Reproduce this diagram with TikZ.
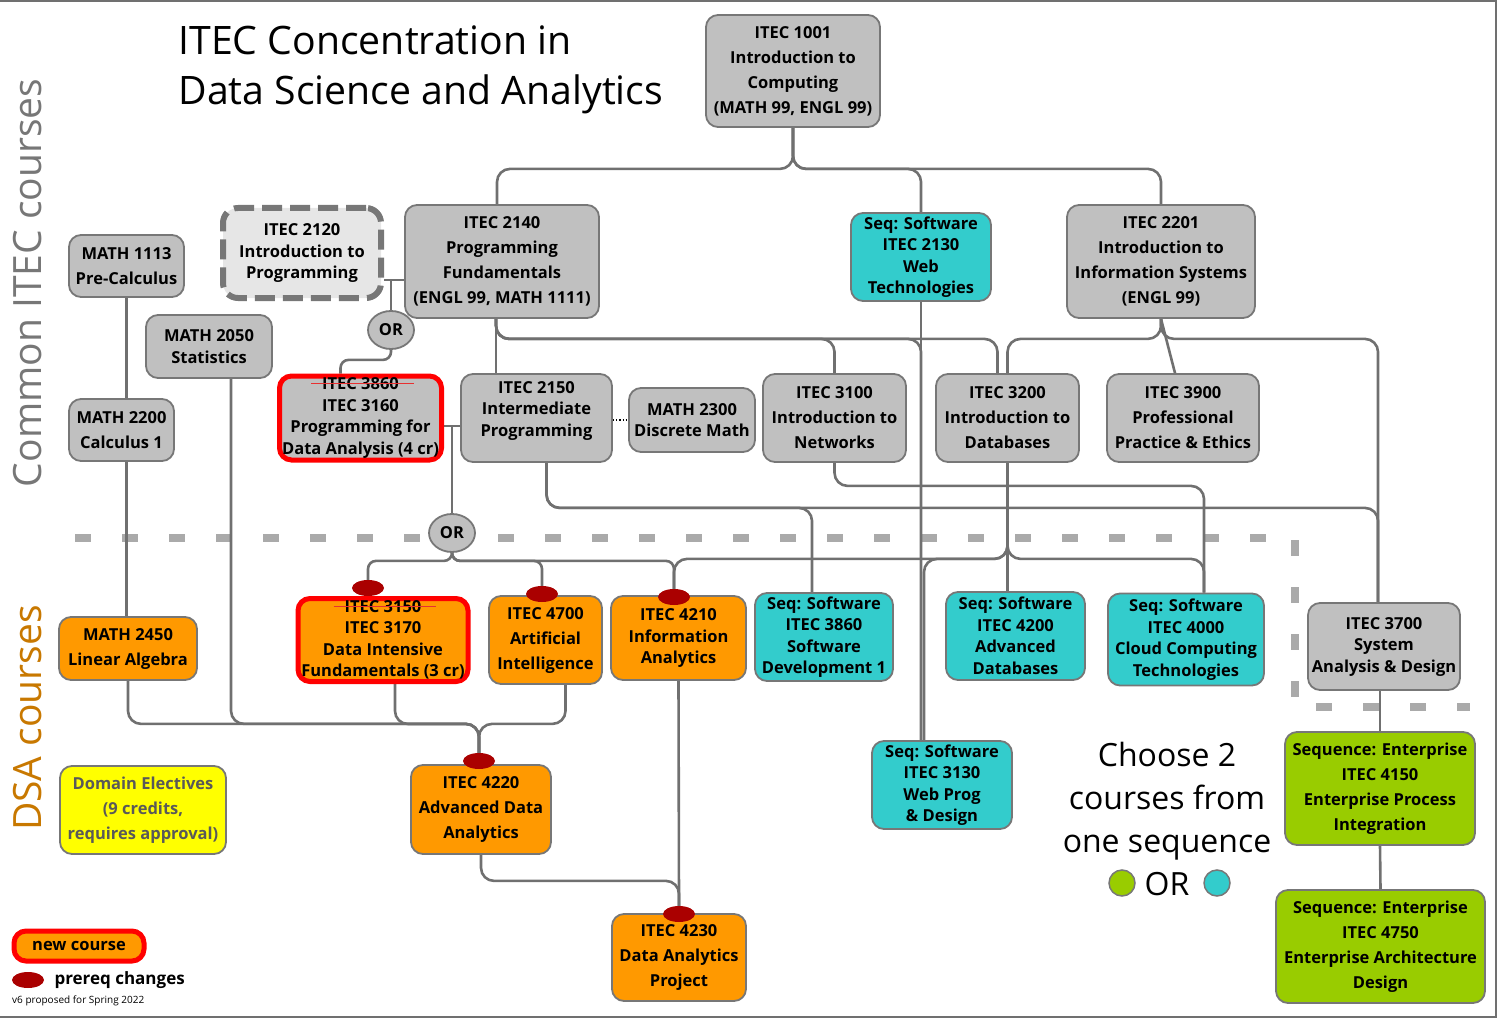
\documentclass[tikz,border=0pt]{standalone}
\usepackage{fontspec}
\setmainfont{Open Sans}
\usetikzlibrary{shapes.geometric,backgrounds}

\definecolor{coregray}{HTML}{C0C0C0}
\definecolor{lightcore}{HTML}{E6E6E6}
\definecolor{edgegray}{HTML}{777777}
\definecolor{wiregray}{HTML}{707070}
\definecolor{dsaorange}{HTML}{FF9900}
\definecolor{seqcyan}{HTML}{33CCCC}
\definecolor{entgreen}{HTML}{99CC00}
\definecolor{electyellow}{HTML}{FFFF00}
\definecolor{newred}{HTML}{FF0000}
\definecolor{blobred}{HTML}{AA0000}
\definecolor{strikered}{HTML}{E83030}
\definecolor{sepgray}{HTML}{AAAAAA}
\definecolor{sidegray}{HTML}{777777}
\definecolor{sideorange}{HTML}{C87800}

\newcommand\boxfont{\fontsize{16.5}{25}\selectfont\bfseries}
\newcommand\tightfont{\fontsize{16.5}{21.5}\selectfont\bfseries}
% struck-out old course number
\newcommand\strk[1]{\setbox0=\hbox{#1}\copy0\llap{\textcolor{strikered}{\rule[0.32em]{\dimexpr\wd0+26pt\relax}{1.6pt}}\kern-15pt}}

\tikzset{
  course/.style={draw=edgegray, line width=1.8pt, rounded corners=12pt, align=center,
    inner sep=0pt, font=\boxfont, text=black},
  tight/.style={font=\tightfont},
  core/.style={course, fill=coregray},
  dsa/.style={course, fill=dsaorange},
  seq/.style={course, fill=seqcyan, tight},
  ent/.style={course, fill=entgreen},
  newcourse/.style={draw=newred, line width=5pt},
  ornode/.style={ellipse, draw=edgegray, fill=coregray, line width=1.8pt, inner sep=0pt,
    minimum width=46pt, minimum height=38pt, font=\boxfont},
  blob/.style={ellipse, fill=blobred, inner sep=0pt, minimum width=32pt, minimum height=16pt},
  wire/.style={draw=wiregray, line width=2.6pt, rounded corners=13pt},
  sidelabel/.style={rotate=90, font=\fontsize{39}{44}\selectfont},
}

\begin{document}
\begin{tikzpicture}[x=1pt, y=-1pt]
\useasboundingbox (0,0) rectangle (1507,1019);

% frame
\draw[wiregray, line width=2pt] (0,1017) -- (1496,1017) -- (1496,1) -- (0,1);

% titles
\node[anchor=west, align=left, font=\fontsize{39.2}{50}\selectfont] (title) at (175,70)
  {ITEC Concentration in\\Data Science and Analytics};
\node[sidelabel, text=sidegray] (common) at (28,283) {Common ITEC courses};
\node[sidelabel, text=sideorange] (dsalbl) at (28,718) {DSA courses};

% common courses
\node[core, minimum width=174pt, minimum height=112pt] (i1001) at (793,71)
  {ITEC 1001\\Introduction to\\Computing\\(MATH 99, ENGL 99)};
\node[course, tight, fill=lightcore, line width=6pt, dash pattern=on 20pt off 8pt,
  rounded corners=15pt, minimum width=158pt, minimum height=90pt] (i2120) at (302,253)
  {ITEC 2120\\Introduction to\\Programming};
\node[core, minimum width=194pt, minimum height=113pt] (i2140) at (502,261.5)
  {ITEC 2140\\Programming\\Fundamentals\\(ENGL 99, MATH 1111)};
\node[seq, minimum width=140pt, minimum height=88pt] (i2130) at (921,257)
  {Seq: Software\\ITEC 2130\\Web\\Technologies};
\node[core, minimum width=188pt, minimum height=113pt] (i2201) at (1161,261.5)
  {ITEC 2201\\Introduction to\\Information Systems\\(ENGL 99)};
\node[core, minimum width=115pt, minimum height=62pt] (m1113) at (126.5,266)
  {MATH 1113\\Pre-Calculus};
\node[core, tight, minimum width=126pt, minimum height=63pt] (m2050) at (209,346.5)
  {MATH 2050\\Statistics};
\node[ornode] (or1) at (391,330) {OR};
\node[core, tight, newcourse, minimum width=162pt, minimum height=84pt] (i3160) at (360.5,418)
  {\strk{ITEC 3860}\\ITEC 3160\\Programming for\\Data Analysis (4 cr)};
\node[core, tight, text depth=18pt, minimum width=151pt, minimum height=88pt] (i2150) at (536.5,418)
  {ITEC 2150\\Intermediate\\Programming};
\node[core, tight, minimum width=126pt, minimum height=64pt] (m2300) at (692,420)
  {MATH 2300\\Discrete Math};
\node[core, minimum width=143pt, minimum height=88pt] (i3100) at (834.5,418)
  {ITEC 3100\\Introduction to\\Networks};
\node[core, minimum width=143pt, minimum height=88pt] (i3200) at (1007.5,418)
  {ITEC 3200\\Introduction to\\Databases};
\node[core, minimum width=152pt, minimum height=88pt] (i3900) at (1183,418)
  {ITEC 3900\\Professional\\Practice \& Ethics};
\node[core, minimum width=105pt, minimum height=62pt] (m2200) at (121.5,430)
  {MATH 2200\\Calculus 1};
\node[ornode] (or2) at (452,533) {OR};

% DSA courses
\node[dsa, minimum width=138pt, minimum height=63pt] (m2450) at (128,648.5)
  {MATH 2450\\Linear Algebra};
\node[dsa, tight, newcourse, minimum width=170pt, minimum height=83pt] (i3170) at (383,640)
  {\strk{ITEC 3150}\\ITEC 3170\\Data Intensive\\Fundamentals (3 cr)};
\node[dsa, minimum width=113pt, minimum height=88pt] (i4700) at (545.5,640)
  {ITEC 4700\\Artificial\\Intelligence};
\node[dsa, tight, minimum width=135pt, minimum height=84pt] (i4210) at (678.5,638)
  {ITEC 4210\\Information\\Analytics};
\node[seq, minimum width=138pt, minimum height=88pt] (i3860) at (824,637)
  {Seq: Software\\ITEC 3860\\Software\\Development 1};
\node[seq, minimum width=139pt, minimum height=88pt] (i4200) at (1015.5,636)
  {Seq: Software\\ITEC 4200\\Advanced\\Databases};
\node[seq, minimum width=156pt, minimum height=92pt] (i4000) at (1186,639.5)
  {Seq: Software\\ITEC 4000\\Cloud Computing\\Technologies};
\node[core, tight, minimum width=152pt, minimum height=87pt] (i3700) at (1384,646.5)
  {ITEC 3700\\System\\Analysis \& Design};
\node[seq, minimum width=140pt, minimum height=88pt] (i3130) at (942,785)
  {Seq: Software\\ITEC 3130\\Web Prog\\\& Design};
\node[ent, minimum width=190pt, minimum height=113pt] (i4150) at (1380,788.5)
  {Sequence: Enterprise\\ITEC 4150\\Enterprise Process\\Integration};
\node[ent, minimum width=209pt, minimum height=113pt] (i4750) at (1380.5,946.5)
  {Sequence: Enterprise\\ITEC 4750\\Enterprise Architecture\\Design};
\node[course, fill=electyellow, text=black!65, minimum width=166pt, minimum height=88pt] (domain) at (143,810)
  {Domain Electives\\(9 credits,\\requires approval)};
\node[dsa, minimum width=140pt, minimum height=89pt] (i4220) at (481,809.5)
  {ITEC 4220\\Advanced Data\\Analytics};
\node[dsa, minimum width=134pt, minimum height=87pt] (i4230) at (679,957.5)
  {ITEC 4230\\Data Analytics\\Project};

% prereq change marks
\node[blob] (b3170) at (368,588) {};
\node[blob] (b4700) at (542,594) {};
\node[blob] (b4210) at (674,597) {};
\node[blob] (b4220) at (479,761) {};
\node[blob] (b4230) at (679,914) {};

% sequence note
\node[align=center, font=\fontsize{32}{43}\selectfont] (choose) at (1167,801)
  {Choose 2\\courses from\\one sequence};
\node[font=\fontsize{32}{43}\selectfont] (orword) at (1167,884) {OR};
\node[circle, draw=edgegray, line width=1.5pt, fill=entgreen, minimum size=26pt, inner sep=0pt] (dotgreen) at (1122,883) {};
\node[circle, draw=edgegray, line width=1.5pt, fill=seqcyan, minimum size=26pt, inner sep=0pt] (dotcyan) at (1217,883) {};

% legend
\node[dsa, newcourse, minimum width=130pt, minimum height=30pt] (lgnew) at (79,946) {new course};
\node[blob] (lgblob) at (28,980) {};
\node[anchor=west, font=\fontsize{17}{20}\selectfont\bfseries] (lgtext) at (51,980) {prereq changes};
\node[anchor=west, font=\fontsize{10}{12}\selectfont, inner sep=0pt] (version) at (12,1001) {v6 proposed for Spring 2022};

\coordinate (j2120) at (391,280);
\coordinate (j3160) at (452,426);

\begin{scope}[on background layer]
  % boundary between common and DSA courses
  \draw[sepgray, line width=8pt, dash pattern=on 16pt off 31pt] (75,538) -- (1295,538) -- (1295,707) -- (1470,707);

  \draw[wire] (i1001.south) -- ++(0,41) -| ([xshift=-5pt]i2140.north);
  \draw[wire] (i1001.south) -- ++(0,41) -| (i2130.north);
  \draw[wire] (i1001.south) -- ++(0,41) -| (i2201.north);

  \draw[wire] (i2120.east |- j2120) -- (i2140.west |- j2120);
  \draw[wire] (j2120) -- (or1.north);
  \draw[wire, rounded corners=8pt] (or1.south) -- ++(0,10) -| ([xshift=-20pt]i3160.north);

  \draw[wire] ([xshift=-6pt]i2140.south) -- ([xshift=-6pt]i2140.south |- i2150.north);
  \draw[wire] ([xshift=-6pt]i2140.south) -- ++(0,20) -| (i3100.north);
  \draw[wire] ([xshift=-6pt]i2140.south) -- ++(0,20) -| (i2130.south |- i3130.north);
  \draw[wire] ([xshift=-6pt]i2140.south) -- ++(0,20) -| ([xshift=-10pt]i3200.north);
  \draw[wire] (i2130.south) -- (i2130.south |- i3130.north);

  \draw[wire] (i2201.south) -- ++(0,20) -| (i3200.north);
  \draw[wire] (i2201.south) -- ([xshift=-8pt]i3900.north);
  \draw[wire] (i2201.south) -- ++(0,20) -| ([xshift=-6pt]i3700.north);

  \draw[wire] (i3160.east |- j3160) -- (i2150.west |- j3160);
  \draw[wire] (j3160) -- (or2.north);
  \draw[black, line width=1.2pt, dotted] (i2150.east |- m2300.west) -- (m2300.west);

  \draw[wire] ([xshift=10pt]i2150.south) -- ++(0,45) -| ([xshift=-12pt]i3860.north);
  \draw[wire] ([xshift=10pt]i2150.south) -- ++(0,45) -| ([xshift=-6pt]i3700.north);
  \draw[wire] (i3100.south) -- ++(0,23) -| ([xshift=18pt]i4000.north);

  \draw[wire] (i3200.south) -- (i3200.south |- i4200.north);
  \draw[wire] (i3200.south) -- ++(0,96) -| ([xshift=-18pt]i3130.north);
  \draw[wire] (i3200.south) -- ++(0,96) -| ([xshift=18pt]i4000.north);
  \draw[wire] (i3200.south) -- ++(0,96) -| (b4210.north);

  \draw[wire, rounded corners=8pt] (or2.south) -- ++(0,8) -| (b3170.north);
  \draw[wire, rounded corners=8pt] (or2.south) -- ++(0,8) -| (b4700.north);
  \draw[wire, rounded corners=8pt] (or2.south) -- ++(0,8) -| (b4210.north);

  \draw[wire] (m1113.south) -- (m1113.south |- m2200.north);
  \draw[wire] ([xshift=5pt]m2200.south) -- ([xshift=5pt]m2200.south |- m2450.north);
  \draw[wire] (m2450.south) -- ++(0,43) -| (b4220.north);
  \draw[wire] ([xshift=22pt]m2050.south) -- ++(0,345) -| (b4220.north);
  \draw[wire] ([xshift=12pt]i3170.south) -- ++(0,40) -| (b4220.north);
  \draw[wire] ([xshift=20pt]i4700.south) -- ++(0,39) -| (b4220.north);

  \draw[wire] (i4220.south) -- ++(0,26) -| (b4230.north);
  \draw[wire] (i4210.south) -- (b4230.north);

  \draw[wire] (i4150.north |- i3700.south) -- (i4150.north);
  \draw[wire] (i4150.south) -- (i4750.north);
\end{scope}
\end{tikzpicture}
\end{document}
